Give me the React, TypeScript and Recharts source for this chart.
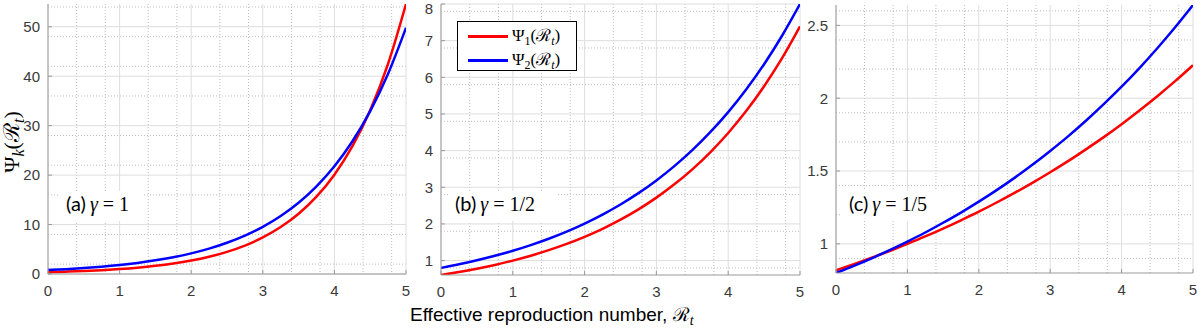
import React from 'react';
import { LineChart, Line, XAxis, YAxis, CartesianGrid, Legend, Customized } from 'recharts';

// Effective reproduction number R_t (x values)
const rValues = [0, 0.25, 0.5, 0.75, 1, 1.25, 1.5, 1.75, 2, 2.25, 2.5, 2.75, 3, 3.25, 3.5, 3.75, 4, 4.25, 4.5, 4.75, 5];

// Panel (a) gamma = 1
const psi1A = [0.368, 0.472, 0.607, 0.779, 1.0, 1.284, 1.649, 2.117, 2.718, 3.49, 4.482, 5.755, 7.389, 9.488, 12.18, 15.64, 20.09, 25.79, 33.12, 42.52, 54.6];
const psi2A = [0.8, 0.984, 1.209, 1.487, 1.828, 2.247, 2.763, 3.397, 4.176, 5.134, 6.312, 7.76, 9.54, 11.73, 14.42, 17.73, 21.79, 26.79, 32.94, 40.5, 49.79];

// Panel (b) gamma = 1/2
const psi1B = [0.607, 0.687, 0.779, 0.882, 1.0, 1.133, 1.284, 1.455, 1.649, 1.868, 2.117, 2.399, 2.718, 3.08, 3.49, 3.955, 4.482, 5.078, 5.755, 6.521, 7.389];
const psi2B = [0.8, 0.898, 1.007, 1.13, 1.268, 1.423, 1.597, 1.792, 2.011, 2.256, 2.531, 2.84, 3.187, 3.576, 4.012, 4.502, 5.051, 5.667, 6.358, 7.134, 8.0];

// Panel (c) gamma = 1/5
const psi1C = [0.819, 0.861, 0.905, 0.951, 1.0, 1.051, 1.105, 1.162, 1.221, 1.284, 1.35, 1.419, 1.492, 1.568, 1.649, 1.733, 1.822, 1.916, 2.014, 2.117, 2.226];
const psi2C = [0.8, 0.849, 0.901, 0.957, 1.016, 1.078, 1.145, 1.215, 1.29, 1.369, 1.453, 1.543, 1.638, 1.738, 1.845, 1.959, 2.079, 2.207, 2.343, 2.487, 2.64];

// Ticks
const xTicks = [0, 1, 2, 3, 4, 5];
const xMinor = [0.2, 0.4, 0.6, 0.8, 1.2, 1.4, 1.6, 1.8, 2.2, 2.4, 2.6, 2.8, 3.2, 3.4, 3.6, 3.8, 4.2, 4.4, 4.6, 4.8];
const yTicksA = [0, 10, 20, 30, 40, 50];
const yMinorA = [2, 4, 6, 8, 12, 14, 16, 18, 22, 24, 26, 28, 32, 34, 36, 38, 42, 44, 46, 48, 52, 54];
const yTicksB = [1, 2, 3, 4, 5, 6, 7, 8];
const yMinorB = [0.8, 1.2, 1.4, 1.6, 1.8, 2.2, 2.4, 2.6, 2.8, 3.2, 3.4, 3.6, 3.8, 4.2, 4.4, 4.6, 4.8, 5.2, 5.4, 5.6, 5.8, 6.2, 6.4, 6.6, 6.8, 7.2, 7.4, 7.6, 7.8];
const yTicksC = [1, 1.5, 2, 2.5];
const yMinorC = [0.9, 1.1, 1.2, 1.3, 1.4, 1.6, 1.7, 1.8, 1.9, 2.1, 2.2, 2.3, 2.4, 2.6];

const yDomainA = [0, 54.6];
const yDomainB = [0.607, 8.0];
const yDomainC = [0.8, 2.64];

const seriesNames = ['Ψ1(ℛt)', 'Ψ2(ℛt)'];
const seriesColors = ['#ff0000', '#0000ff'];

const SANS = "'Liberation Sans', Arial, Helvetica, sans-serif";
const SERIF = "'Liberation Serif', 'DejaVu Serif', serif";
const LABEL_SANS = "Lato, 'Open Sans', sans-serif";
const AXIS_COLOR = '#9a9a9a';
const TICK_COLOR = '#3a3a3a';

type LabelProps = { x: number; y: number; tag: string; gamma: string; boxW: number };

const PanelLabel = ({ x, y, tag, gamma, boxW }: LabelProps) => (
  <g>
    <rect x={x - 7} y={y - 20} width={boxW} height={30} fill="#ffffff" />
    <text x={x} y={y} fontSize={20} fill="#000">
      <tspan fontFamily={LABEL_SANS}>{tag}</tspan>
      <tspan fontFamily={SERIF} fontStyle="italic" dx={4}>γ</tspan>
      <tspan fontFamily={SERIF}>{' = ' + gamma}</tspan>
    </text>
  </g>
);

const YTitle = () => (
  <text x={0} y={0} transform="translate(19,142) rotate(-90)" textAnchor="middle" fontFamily={SERIF} fontSize={22} fill="#000">
    <tspan>Ψ</tspan>
    <tspan fontStyle="italic" fontSize={16} dy={5}>k</tspan>
    <tspan dy={-5}>(ℛ</tspan>
    <tspan fontStyle="italic" fontSize={16} dy={5}>t</tspan>
    <tspan dy={-5}>)</tspan>
  </text>
);

const XTitle = () => (
  <text x={10} y={321} fontFamily={SANS} fontSize={19} fill="#000">
    <tspan>Effective reproduction number, </tspan>
    <tspan fontFamily={SERIF}>ℛ</tspan>
    <tspan fontFamily={SERIF} fontStyle="italic" fontSize={14} dy={4}>t</tspan>
  </text>
);

const renderLegend = (props: any) => {
  const payload = props.payload || [];
  return (
    <div style={{ width: 120, height: 50, boxSizing: 'border-box', border: '1px solid #000', background: '#fff', paddingTop: 2 }}>
      {payload.map((p: any, i: number) => (
        <div key={i} style={{ display: 'flex', alignItems: 'center', height: 24 }}>
          <span style={{ display: 'inline-block', width: 40, height: 3, background: p.color, marginLeft: 10, marginRight: 4 }} />
          <span style={{ fontFamily: SERIF, fontSize: 17, color: '#000', whiteSpace: 'nowrap' }}>
            Ψ<sub style={{ fontSize: 12 }}>{i + 1}</sub>(ℛ<sub style={{ fontSize: 12, fontStyle: 'italic' }}>t</sub>)
          </span>
        </div>
      ))}
    </div>
  );
};

type PanelProps = {
  left: number;
  width: number;
  margin: { top: number; right: number; bottom: number; left: number };
  yDomain: number[];
  yTicks: number[];
  yMinor: number[];
  psi1: number[];
  psi2: number[];
  label: React.ReactElement;
  extra?: React.ReactElement[];
  legend?: boolean;
};

function Panel(p: PanelProps) {
  const data = rValues.map((r, i) => ({ r, psi1: p.psi1[i], psi2: p.psi2[i] }));
  return (
    <div style={{ position: 'absolute', left: p.left, top: 0 }}>
      <LineChart width={p.width} height={329} data={data} margin={p.margin}>
        <CartesianGrid verticalValues={xMinor} horizontalValues={p.yMinor} stroke="#bdbdbd" strokeDasharray="1 2" />
        <CartesianGrid verticalValues={xTicks} horizontalValues={p.yTicks} stroke="#dedede" />
        <XAxis
          type="number"
          dataKey="r"
          domain={[0, 5]}
          ticks={xTicks}
          allowDataOverflow
          height={30}
          tickSize={-4}
          tickMargin={15}
          stroke={AXIS_COLOR}
          tick={{ fill: TICK_COLOR, fontSize: 15, fontFamily: SANS }}
        />
        <XAxis
          xAxisId="top"
          orientation="top"
          type="number"
          dataKey="r"
          domain={[0, 5]}
          ticks={xTicks}
          allowDataOverflow
          height={0}
          tickSize={-4}
          stroke={AXIS_COLOR}
          tick={false}
        />
        <YAxis
          type="number"
          domain={p.yDomain}
          ticks={p.yTicks}
          allowDataOverflow
          width={40}
          tickSize={-4}
          tickMargin={12}
          stroke={AXIS_COLOR}
          tick={{ fill: TICK_COLOR, fontSize: 15, fontFamily: SANS }}
        />
        <YAxis
          yAxisId="right"
          orientation="right"
          type="number"
          domain={p.yDomain}
          ticks={p.yTicks}
          allowDataOverflow
          width={0}
          tickSize={-4}
          stroke={AXIS_COLOR}
          tick={false}
        />
        <Customized component={p.label} />
        {(p.extra || []).map((e, i) => (
          <Customized key={i} component={e} />
        ))}
        {p.legend && (
          <Legend
            layout="vertical"
            align="center"
            verticalAlign="middle"
            content={renderLegend}
            wrapperStyle={{ left: 57, top: 21, width: 120, height: 50 }}
          />
        )}
        <Line type="monotone" dataKey="psi1" name={seriesNames[0]} stroke={seriesColors[0]} strokeWidth={2.5} dot={false} isAnimationActive={false} />
        <Line type="monotone" dataKey="psi2" name={seriesNames[1]} stroke={seriesColors[1]} strokeWidth={2.5} dot={false} isAnimationActive={false} />
      </LineChart>
    </div>
  );
}

export default function App() {
  return (
    <div style={{ position: 'absolute', left: 0, top: 0, width: 1200, height: 329, background: '#ffffff', overflow: 'hidden' }}>
      <Panel
        left={0}
        width={420}
        margin={{ top: 4, right: 14, bottom: 25, left: 8 }}
        yDomain={yDomainA}
        yTicks={yTicksA}
        yMinor={yMinorA}
        psi1={psi1A}
        psi2={psi2A}
        label={<PanelLabel x={66} y={211} tag="(a)" gamma="1" boxW={84} />}
        extra={[<YTitle />]}
      />
      <Panel
        left={400}
        width={410}
        margin={{ top: 4, right: 10, bottom: 24, left: 1 }}
        yDomain={yDomainB}
        yTicks={yTicksB}
        yMinor={yMinorB}
        psi1={psi1B}
        psi2={psi2B}
        label={<PanelLabel x={55} y={211} tag="(b)" gamma="1/2" boxW={108} />}
        extra={[<XTitle />]}
        legend
      />
      <Panel
        left={795}
        width={405}
        margin={{ top: 5, right: 7, bottom: 26, left: 1 }}
        yDomain={yDomainC}
        yTicks={yTicksC}
        yMinor={yMinorC}
        psi1={psi1C}
        psi2={psi2C}
        label={<PanelLabel x={54} y={211} tag="(c)" gamma="1/5" boxW={106} />}
      />
    </div>
  );
}
